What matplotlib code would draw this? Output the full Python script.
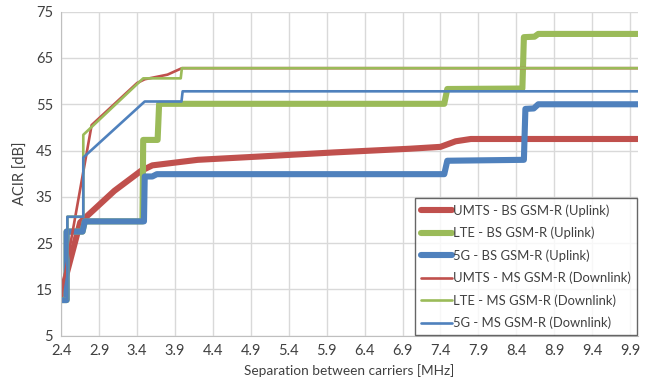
import numpy as np
import matplotlib
matplotlib.use("Agg")
import matplotlib.pyplot as plt

plt.rcParams['font.family'] = ['Lato', 'DejaVu Sans']

# ACIR curves (x in MHz, y in dB)
umts_bs_x = [2.4, 2.65, 3.1, 3.45, 3.6, 4.2, 5.0, 6.0, 7.0, 7.4, 7.6, 7.8, 10.0]
umts_bs_y = [14.0, 29.5, 36.3, 40.6, 41.8, 43.0, 43.7, 44.6, 45.4, 45.8, 47.0, 47.5, 47.5]

lte_bs_x = [2.4, 2.47, 2.47, 2.68, 2.71, 3.47, 3.48, 3.67, 3.69, 7.45, 7.49, 8.48, 8.5, 8.64, 8.69, 10.0]
lte_bs_y = [12.7, 12.7, 27.5, 27.5, 29.7, 29.7, 47.3, 47.3, 55.1, 55.1, 58.3, 58.4, 69.5, 69.6, 70.2, 70.2]

g5_bs_x = [2.4, 2.47, 2.47, 2.68, 2.71, 3.49, 3.5, 3.6, 3.66, 7.45, 7.49, 8.5, 8.52, 8.63, 8.69, 10.0]
g5_bs_y = [12.7, 12.7, 27.5, 27.5, 29.7, 29.7, 39.4, 39.4, 39.9, 39.9, 42.8, 43.0, 54.0, 54.1, 55.0, 55.0]

umts_ms_x = [2.4, 2.8, 3.4, 3.5, 3.8, 3.99, 10.0]
umts_ms_y = [13.8, 50.5, 59.6, 60.4, 61.4, 62.8, 62.8]

lte_ms_x = [2.4, 2.48, 2.48, 2.69, 2.69, 3.48, 3.975, 3.99, 10.0]
lte_ms_y = [13.0, 13.0, 30.7, 30.7, 48.4, 60.6, 60.6, 62.8, 62.8]

g5_ms_x = [2.4, 2.48, 2.48, 2.69, 2.69, 3.5, 3.985, 4.0, 10.0]
g5_ms_y = [13.0, 13.0, 30.7, 30.7, 43.5, 55.6, 55.6, 57.8, 57.8]

RED, GREEN, BLUE = '#C0504D', '#9BBB59', '#4F81BD'
TXT = '#404040'

fig = plt.figure(figsize=(6.48, 3.9), dpi=100)
ax = fig.add_axes([0.0946, 0.1392, 0.8894, 0.8308])

thick, thin = 4.4, 1.9
ax.plot(umts_bs_x, umts_bs_y, color=RED, lw=thick, label='UMTS - BS GSM-R (Uplink)')
ax.plot(lte_bs_x, lte_bs_y, color=GREEN, lw=thick, label='LTE - BS GSM-R (Uplink)')
ax.plot(g5_bs_x, g5_bs_y, color=BLUE, lw=thick, label='5G - BS GSM-R (Uplink)')
ax.plot(umts_ms_x, umts_ms_y, color=RED, lw=thin, label='UMTS - MS GSM-R (Downlink)')
ax.plot(lte_ms_x, lte_ms_y, color=GREEN, lw=thin, label='LTE - MS GSM-R (Downlink)')
ax.plot(g5_ms_x, g5_ms_y, color=BLUE, lw=thin, label='5G - MS GSM-R (Downlink)')

ax.set_xlim(2.4, 10.0)
ax.set_ylim(5, 75)
xticks = np.arange(2.4, 10.0, 0.5)
ax.set_xticks(xticks)
ax.set_xticklabels([f'{t:.1f}' for t in xticks])
ax.set_yticks(np.arange(5, 76, 10))
ax.tick_params(length=0, labelsize=10.5, colors=TXT, pad=6)
ax.grid(True, color='#D9D9D9', lw=1)
ax.set_axisbelow(True)

for s in ['top', 'right']:
    ax.spines[s].set_visible(False)
for s in ['left', 'bottom']:
    ax.spines[s].set_color('#BFBFBF')

ax.set_xlabel('Separation between carriers [MHz]', fontsize=9.8, color=TXT, labelpad=4)
ax.set_ylabel('ACIR [dB]', fontsize=10.5, color=TXT, labelpad=6)

leg = ax.legend(loc='lower right', fontsize=9.4, frameon=True, fancybox=False,
                handlelength=2.4, handletextpad=0.1, borderaxespad=0.05,
                labelspacing=0.76, borderpad=0.45)
leg.get_frame().set_edgecolor(TXT)
leg.get_frame().set_linewidth(1.0)
for t in leg.get_texts():
    t.set_color(TXT)
for ln in leg.get_lines():
    ln.set_solid_capstyle('round')

fig.savefig('out.png', dpi=100)
